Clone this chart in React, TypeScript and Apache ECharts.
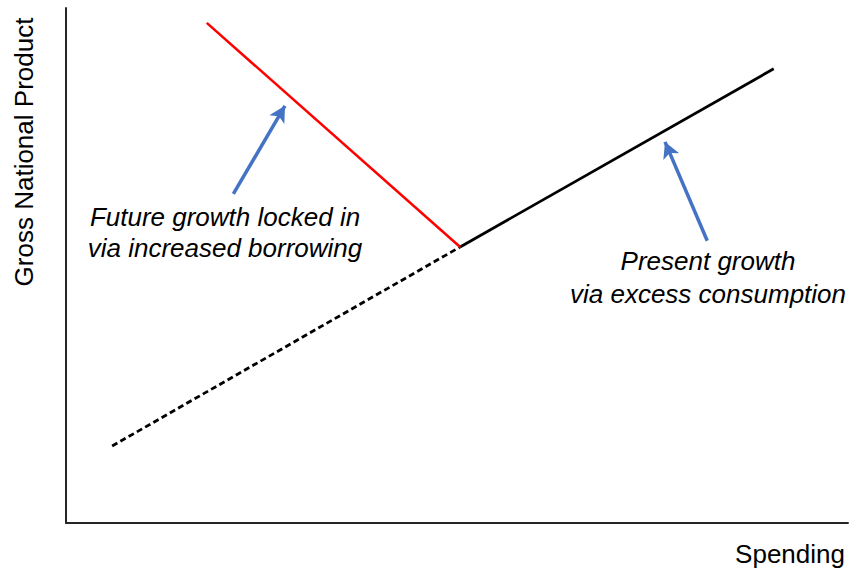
import React, { useEffect, useRef } from "react";
import * as echarts from "echarts";

// Data coordinates (0..100 on both axes, no numeric ticks shown)
const dashedSegment: number[][] = [
  [5.9, 14.95],
  [50.4, 53.6],
];
const solidSegment: number[][] = [
  [50.4, 53.6],
  [90.5, 88.2],
];
const redSegment: number[][] = [
  [18.0, 97.1],
  [50.4, 53.6],
];
const arrowBorrowing: number[][] = [
  [21.4, 63.9],
  [28.0, 81.0],
];
const arrowConsumption: number[][] = [
  [82.0, 54.8],
  [76.6, 74.0],
];
const xAxisName = "Spending";
const yAxisName = "Gross National Product";
const noteBorrowing = "Future growth locked in\nvia increased borrowing";
const noteConsumption = "Present growth\nvia excess consumption";

const FONT = "'Liberation Sans', Arial, sans-serif";

export default function App() {
  const ref = useRef<HTMLDivElement>(null);
  useEffect(() => {
    if (!ref.current) return;
    const chart = echarts.init(ref.current, undefined, { renderer: "svg" });
    const arrowLine = (pts: number[][]) => ({
      type: "line",
      data: [],
      silent: true,
      markLine: {
        silent: true,
        animation: false,
        symbol: ["none", "arrow"],
        symbolSize: [13, 16],
        label: { show: false },
        lineStyle: { color: "#4472C4", width: 3.5, type: "solid" },
        data: [[{ coord: pts[0] }, { coord: pts[1] }]],
      },
    });
    chart.setOption({
      animation: false,
      grid: { left: 66, top: 8, right: 2, bottom: 49, containLabel: false },
      xAxis: {
        type: "value",
        min: 0,
        max: 100,
        axisLine: { show: true, lineStyle: { color: "#262626", width: 2 } },
        axisTick: { show: false },
        axisLabel: { show: false },
        splitLine: { show: false },
      },
      yAxis: {
        type: "value",
        min: 0,
        max: 100,
        axisLine: { show: true, lineStyle: { color: "#262626", width: 2 } },
        axisTick: { show: false },
        axisLabel: { show: false },
        splitLine: { show: false },
      },
      series: [
        {
          type: "line",
          data: dashedSegment,
          symbol: "none",
          lineStyle: { color: "#000", width: 2.8, type: [6, 3.5] },
        },
        {
          type: "line",
          data: solidSegment,
          symbol: "none",
          lineStyle: { color: "#000", width: 2.8, type: "solid" },
        },
        {
          type: "line",
          data: redSegment,
          symbol: "none",
          lineStyle: { color: "#FF0000", width: 2.5, type: "solid" },
        },
        arrowLine(arrowBorrowing),
        arrowLine(arrowConsumption),
      ],
      graphic: [
        {
          type: "text",
          x: 225,
          y: 232,
          style: {
            text: noteBorrowing,
            fontFamily: FONT,
            fontStyle: "italic",
            fontSize: 26,
            lineHeight: 31,
            fill: "#000",
            align: "center",
            verticalAlign: "middle",
          },
        },
        {
          type: "text",
          x: 708,
          y: 277,
          style: {
            text: noteConsumption,
            fontFamily: FONT,
            fontStyle: "italic",
            fontSize: 26,
            lineHeight: 33,
            fill: "#000",
            align: "center",
            verticalAlign: "middle",
          },
        },
        {
          type: "text",
          x: 845,
          y: 554,
          style: {
            text: xAxisName,
            fontFamily: FONT,
            fontSize: 26,
            fill: "#000",
            align: "right",
            verticalAlign: "middle",
          },
        },
        {
          type: "text",
          x: 24,
          y: 152,
          rotation: Math.PI / 2,
          style: {
            text: yAxisName,
            fontFamily: FONT,
            fontSize: 26,
            fill: "#000",
            align: "center",
            verticalAlign: "middle",
          },
        },
      ],
    });
    return () => chart.dispose();
  }, []);
  return (
    <div
      ref={ref}
      style={{ position: "fixed", left: 0, top: 0, width: 850, height: 572, background: "#fff" }}
    />
  );
}
